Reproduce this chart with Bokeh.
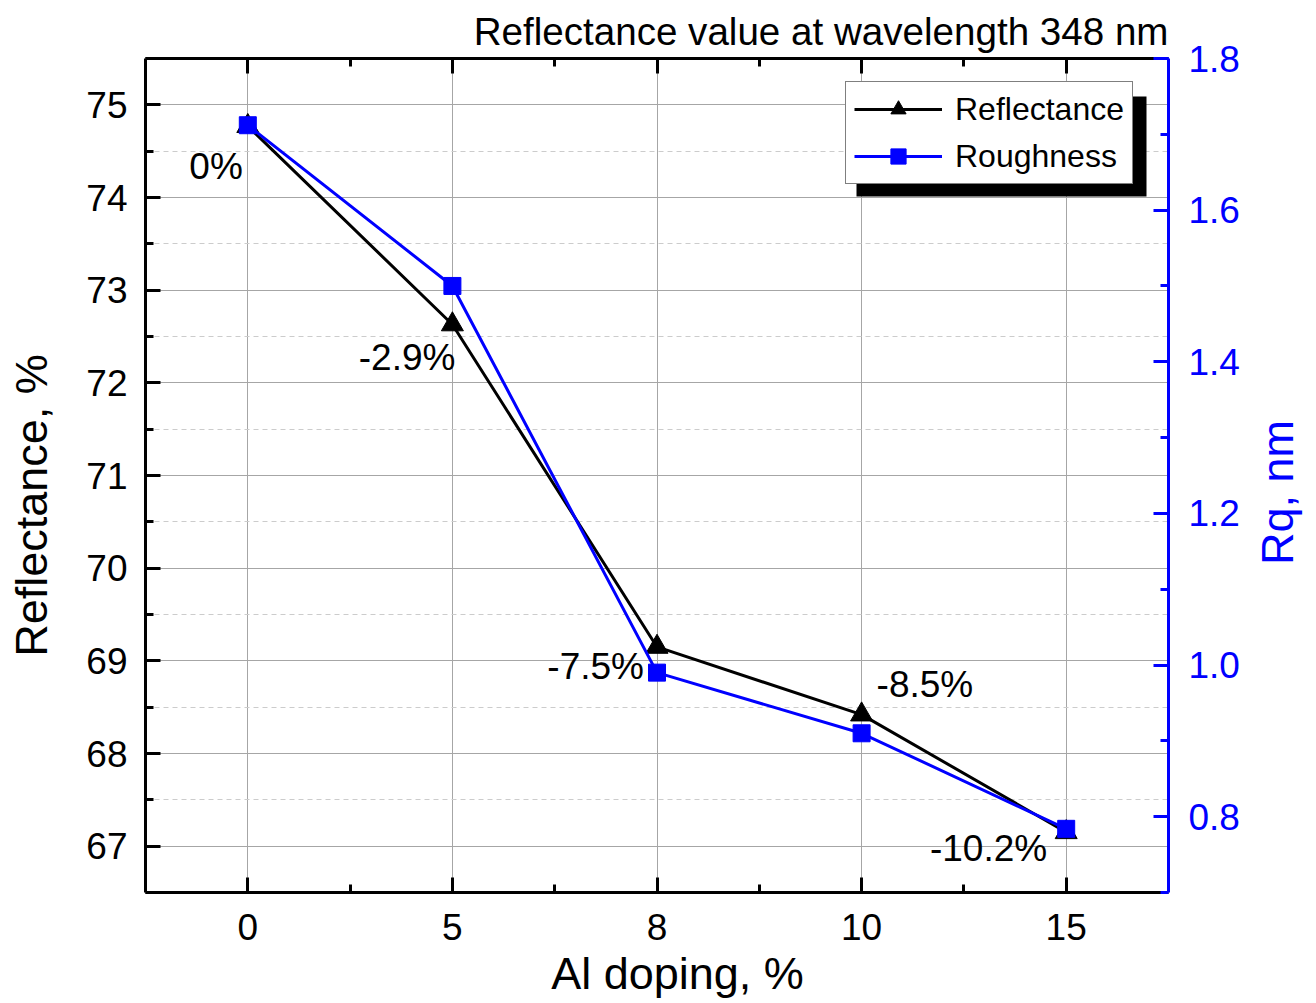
import math

from bokeh.plotting import figure
from bokeh.models import (Range1d, LinearAxis, FixedTicker, SingleIntervalTicker,
                          PrintfTickFormatter, Legend, LegendItem, BoxAnnotation,
                          ColumnDataSource, Label)
from bokeh.core.properties import value
from bokeh.embed import file_html
from bokeh.resources import INLINE

# Al doping levels (%), shown as evenly spaced categories
doping = [0, 5, 8, 10, 15]
doping_labels = ["0", "5", "8", "10", "15"]

# Reflectance at 348 nm (%) and surface roughness Rq (nm)
reflectance = [74.77, 72.63, 69.15, 68.42, 67.15]
roughness = [1.712, 1.500, 0.990, 0.910, 0.784]

# Relative change of reflectance with respect to the undoped film
change_labels = ["0%", "-2.9%", "-7.5%", "-8.5%", "-10.2%"]

# Placement of the change labels around each point (screen pixels, y down)
label_dx = [-5, 3, -13, 15, -19]
label_dy = [40, 33, 20, -30, 16]
label_align = ["right", "right", "right", "left", "right"]

FONT = "Liberation Sans"
BLUE = "#0000ff"
GRID = "#a6a6a6"

pos = list(range(len(doping)))

p = figure(width=1316, height=1003,
           x_range=Range1d(-0.5, len(doping) - 0.5),
           y_range=Range1d(66.5, 75.5),
           output_backend="svg", toolbar_location=None,
           min_border_left=145, min_border_right=148,
           min_border_top=58, min_border_bottom=111,
           title="Reflectance value at wavelength 348 nm")
p.outline_line_color = None
p.background_fill_color = "white"
p.border_fill_color = "white"

p.title.text_font = FONT
p.title.text_font_size = "38.6px"
p.title.text_font_style = "normal"
p.title.text_color = "black"
p.title.align = "right"
p.title.standoff = 12

x_ticker = FixedTicker(ticks=pos, minor_ticks=[i + 0.5 for i in pos[:-1]])


def style_axis(ax, color):
    ax.axis_line_color = color
    ax.axis_line_width = 3
    ax.major_tick_line_color = color
    ax.major_tick_line_width = 3
    ax.minor_tick_line_color = color
    ax.minor_tick_line_width = 3
    ax.major_tick_in = 15
    ax.major_tick_out = 0
    ax.minor_tick_in = 8
    ax.minor_tick_out = 0
    ax.major_label_text_font = FONT
    ax.major_label_text_font_size = "37px"
    ax.major_label_text_color = color


def axis_title(text, x, y, angle, color, size):
    return Label(x=x, y=y, x_units="screen", y_units="screen",
                 text=text, angle=angle, angle_units="deg",
                 text_align="center", text_baseline="middle",
                 text_font=FONT, text_font_size=size, text_color=color)


# bottom axis
xax = p.xaxis[0]
xax.ticker = x_ticker
xax.major_label_overrides = {i: lab for i, lab in zip(pos, doping_labels)}
style_axis(xax, "black")
xax.major_label_standoff = 21
p.add_layout(axis_title("Al doping, %", 532, 20, 0, "black", "45px"), "below")

# left axis
yax = p.yaxis[0]
yax.ticker = SingleIntervalTicker(interval=1, num_minor_ticks=2)
style_axis(yax, "black")
yax.major_label_standoff = 18
p.add_layout(axis_title("Reflectance, %", -1, 387, 90, "black", "45px"), "left")

# top axis: ticks only
top = LinearAxis(ticker=x_ticker)
style_axis(top, "black")
top.major_label_text_font_size = "0px"
top.major_label_standoff = 0
top.major_label_overrides = {i: "" for i in pos}
p.add_layout(top, "above")

# right axis for roughness
p.extra_y_ranges = {"rq": Range1d(0.7, 1.8)}
rax = LinearAxis(y_range_name="rq",
                 ticker=SingleIntervalTicker(interval=0.2, num_minor_ticks=2),
                 formatter=PrintfTickFormatter(format="%.1f"))
style_axis(rax, BLUE)
rax.major_label_standoff = 20
p.add_layout(rax, "right")
p.add_layout(axis_title("Rq, nm", 35, 400, 90, BLUE, "45px"), "right")

# grids
p.xgrid.grid_line_color = GRID
p.xgrid.grid_line_width = 1
p.ygrid.grid_line_color = GRID
p.ygrid.grid_line_width = 1
p.ygrid.minor_grid_line_color = "#cccccc"
p.ygrid.minor_grid_line_dash = "5 4"
p.ygrid.minor_grid_line_width = 1

# data
l1 = p.line(pos, reflectance, line_color="black", line_width=3)
s1 = p.scatter(pos, reflectance, marker="triangle", size=22,
               fill_color="black", line_color="black")
l2 = p.line(pos, roughness, line_color=BLUE, line_width=3, y_range_name="rq")
s2 = p.scatter(pos, roughness, marker="square", size=17,
               fill_color=BLUE, line_color=BLUE, y_range_name="rq")

# change annotations next to the reflectance points
for align in ("left", "right"):
    idx = [i for i, a in enumerate(label_align) if a == align]
    src = ColumnDataSource(dict(
        x=[pos[i] for i in idx],
        y=[reflectance[i] for i in idx],
        text=[change_labels[i] for i in idx],
        dx=[label_dx[i] for i in idx],
        dy=[label_dy[i] for i in idx],
    ))
    p.text(x="x", y="y", text="text", x_offset="dx", y_offset="dy", source=src,
           text_align=align, text_baseline="middle",
           text_font=value(FONT), text_font_size="37px", text_color="black")

# legend with drop shadow
shadow = BoxAnnotation(left=711, right=1001, bottom=696, top=796,
                       left_units="screen", right_units="screen",
                       bottom_units="screen", top_units="screen",
                       fill_color="black", fill_alpha=1.0, line_color=None)
p.add_layout(shadow)

legend = Legend(items=[LegendItem(label="Reflectance", renderers=[l1, s1]),
                       LegendItem(label="Roughness", renderers=[l2, s2])],
                location=(700, 708), margin=0, padding=8, spacing=9,
                glyph_width=88, glyph_height=38, label_standoff=13,
                label_text_font=FONT, label_text_font_size="32px",
                label_text_color="black",
                border_line_color="black", border_line_width=1.5,
                background_fill_color="white", background_fill_alpha=1.0)
p.add_layout(legend)

open("out.html", "w").write(file_html(p, INLINE))
